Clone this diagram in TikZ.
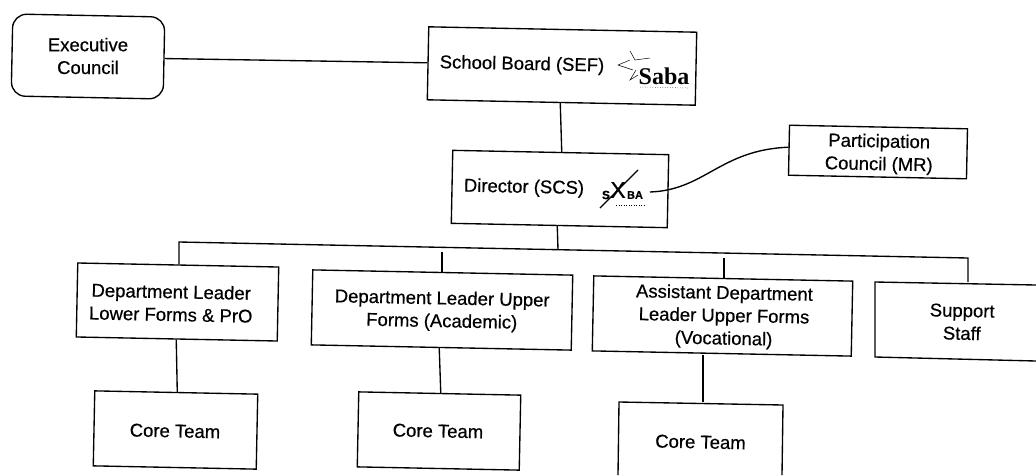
\documentclass[tikz,border=0pt]{standalone}
\usepackage{fontspec}
\setmainfont{Liberation Sans}[RawFeature={embolden=0.5}]
\newfontfamily\logofont{Liberation Serif}
\usetikzlibrary{calc}
\tikzset{
  x=1pt,y=-1pt,
  boxnode/.style={draw=black,line width=1.35pt,fill=white,rectangle,inner sep=0pt,rotate=-1.15},
  roundnode/.style={boxnode,rotate=0,rounded corners=14pt},
  lbl/.style={font=\fontsize{18.5}{22.8}\selectfont,align=center,text=black,inner sep=0pt,rotate=-1.15},
  conn/.style={draw=black,line width=1.35pt},
  logoline/.style={draw=black,line width=.5pt},
}
\begin{document}
\begin{tikzpicture}
\useasboundingbox (0,0) rectangle (1036,475);
% boxes
\node[roundnode,minimum width=152pt,minimum height=82pt] (exec) at (88,56.5) {};
\node[boxnode,minimum width=268pt,minimum height=73pt] (school) at (562,66) {};
\node[boxnode,minimum width=216pt,minimum height=73pt] (director) at (560,189) {};
\node[boxnode,minimum width=178pt,minimum height=50pt] (part) at (878,152) {};
\node[boxnode,minimum width=201pt,minimum height=74pt] (dept1) at (177.5,302) {};
\node[boxnode,minimum width=260pt,minimum height=75pt] (dept2) at (442,310) {};
\node[boxnode,minimum width=259pt,minimum height=75pt] (dept3) at (722.5,316) {};
\node[boxnode,minimum width=163pt,minimum height=75pt] (core1) at (175.5,430) {};
\node[boxnode,minimum width=162pt,minimum height=75pt] (core2) at (439,431) {};
% labels
\node[lbl,rotate=1.15] (exec-t) at (88,56) {Executive\\Council};
\node[lbl] (school-t) at (522,65) {School Board (SEF)};
\node[lbl] (director-t) at (524,188) {Director (SCS)};
\node[lbl] (part-t) at (879,154) {Participation\\Council (MR)};
\node[lbl] (dept1-t) at (171,303) {Department Leader\\Lower Forms \& PrO};
\node[lbl] (dept2-t) at (442,311) {Department Leader Upper\\Forms (Academic)};
\node[lbl] (dept3-t) at (724,317) {Assistant Department\\Leader Upper Forms\\(Vocational)};
\node[lbl] (support-t) at (962,322) {Support\\Staff};
\node[lbl] (core1-t) at (175,431) {Core Team};
\node[lbl] (core2-t) at (438,431) {Core Team};
\node[lbl] (core3-t) at (700.5,442) {Core Team};
% boxes running off the page edge
\coordinate (supNW) at (875,282);
\coordinate (supNE) at (1036,285);
\coordinate (supSW) at (875,357);
\coordinate (supSE) at (1036,361);
\draw[conn] (supNE) -- (supNW) -- (supSW) -- (supSE);
\coordinate (c3NW) at (619,402);
\coordinate (c3NE) at (783,405);
\coordinate (c3SW) at (618,475);
\coordinate (c3SE) at (782,475);
\draw[conn] (c3SW) -- (c3NW) -- (c3NE) -- (c3SE);
% connectors
\draw[conn] ($(exec.east)+(0,.5)$) -- ($(school.west)+(0,-.5)$);
\draw[conn] ($(school.south)+(-1,0)$) -- ($(director.north)+(1,0)$);
\coordinate (busL) at (179,242);
\coordinate (busR) at (968,258);
\coordinate (busJ) at (558,249.7);
\coordinate (drop2) at (442,252);
\coordinate (drop3) at (724,258);
\coordinate (curveStart) at (650,192);
\draw[conn] ($(director.south)+(-2,0)$) -- (busJ);
\draw[conn] (dept1.north -| busL) -- (busL) -- (busR) -- (supNW -| busR);
\draw[conn] (drop2) -- (drop2 |- dept2.north);
\draw[conn] (drop3) -- (drop3 |- dept3.north);
\draw[conn] ($(dept1.south)+(-.5,0)$) -- ($(core1.north)+(1,0)$);
\draw[conn] ($(dept2.south)+(-2,0)$) -- ($(core2.north)+(1,0)$);
\coordinate (c3drop) at (703,355);
\draw[conn] (c3drop) -- (c3drop |- c3NW);
\draw[conn] (curveStart) .. controls (705,190) and (720,150) .. ($(part.west)+(0,-3)$);
% logos
\node[font=\logofont\bfseries\fontsize{24}{24}\selectfont,inner sep=0pt] (sabaA) at (664,76) {Saba};
\draw[logoline] (630,51) -- (635,60) -- (650,58);
\draw[logoline] (630,60) -- (618,65) -- (633,70);
\draw[logoline] (636,70) -- (630,80) -- (638,75);
\draw[logoline,dotted] (640,87) -- (688,88);
\node[font=\bfseries\fontsize{12}{12}\selectfont,inner sep=0pt] (sabaS) at (606,195) {S};
\node[font=\fontsize{23}{23}\selectfont,inner sep=0pt] (sabaX) at (618,190) {X};
\node[font=\bfseries\fontsize{11}{11}\selectfont,inner sep=0pt] (sabaB) at (635,195) {BA};
\draw[draw=black,line width=1.3pt] (638,170) -- (600,208);
\draw[logoline,dotted] (616,205) -- (645,205);
\end{tikzpicture}
\end{document}
